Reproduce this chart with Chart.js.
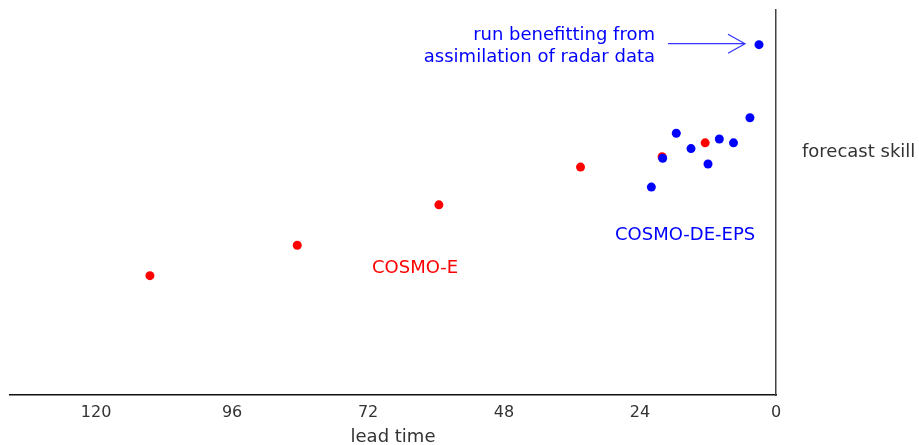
<!DOCTYPE html>
<html>
<head>
<meta charset="utf-8">
<title>Forecast skill vs lead time</title>
<script src="https://cdn.jsdelivr.net/npm/chart.js@4.4.1/dist/chart.umd.min.js"></script>
<style>
  html, body { margin: 0; padding: 0; background: #fff; }
  #wrap { width: 919px; height: 445px; position: relative; }
</style>
</head>
<body>
<div id="wrap"><canvas id="skillChart"></canvas></div>
<script>
// ── Data ─────────────────────────────────────────────────────────────────────
// lead time in hours, skill on an arbitrary 0..100 scale (no y ticks shown)
const epsLeadTime = [3, 4.6, 7.5, 10, 12, 15, 17.6, 20, 22];
const epsSkill    = [91, 72, 65.5, 66.5, 60, 64, 68, 61.5, 54];

const eLeadTime = [12.5, 20.1, 34.5, 59.5, 84.5, 110.5];
const eSkill    = [65.5, 61.9, 59.2, 49.4, 38.9, 31];

const leadTicks = [120, 96, 72, 48, 24, 0];

// ── Styles ───────────────────────────────────────────────────────────────────
const FONT = "'DejaVu Sans', Verdana, sans-serif";
const BLUE = '#0000ff';
const RED  = '#ff0000';

const toPoints = (xs, ys) => xs.map((x, i) => ({ x, y: ys[i] }));

// ── Annotation plugin (labels + arrow) ──────────────────────────────────────
const annotations = {
  id: 'annotations',
  afterDraw(chart) {
    const { ctx } = chart;
    ctx.save();
    ctx.textBaseline = 'middle';
    ctx.font = `18px ${FONT}`;

    // y axis caption
    ctx.fillStyle = '#333';
    ctx.textAlign = 'left';
    ctx.fillText('forecast skill', 802, 152);

    // series labels
    ctx.fillStyle = RED;
    ctx.fillText('COSMO-E', 372, 268);
    ctx.fillStyle = BLUE;
    ctx.fillText('COSMO-DE-EPS', 615, 235);

    // radar-assimilation note
    ctx.textAlign = 'right';
    ctx.fillText('run benefitting from', 655, 35);
    ctx.fillText('assimilation of radar data', 655, 57);

    // arrow pointing at the first EPS run
    const pt = chart.getDatasetMeta(0).data[0];
    const tipX = pt.x - 14, tipY = pt.y - 1;
    ctx.strokeStyle = '#3535ff';
    ctx.lineWidth = 1.2;
    ctx.beginPath();
    ctx.moveTo(668, tipY);
    ctx.lineTo(tipX, tipY);
    ctx.moveTo(tipX - 17, tipY - 9.5);
    ctx.lineTo(tipX, tipY);
    ctx.lineTo(tipX - 17, tipY + 9.5);
    ctx.stroke();
    ctx.restore();
  }
};

// ── Chart ────────────────────────────────────────────────────────────────────
new Chart(document.getElementById('skillChart'), {
  type: 'scatter',
  data: {
    datasets: [
      { label: 'COSMO-DE-EPS', data: toPoints(epsLeadTime, epsSkill), backgroundColor: BLUE },
      { label: 'COSMO-E',      data: toPoints(eLeadTime, eSkill),     backgroundColor: RED },
    ],
  },
  options: {
    responsive: true,
    maintainAspectRatio: false,
    animation: false,
    layout: { padding: { left: 10, top: 10, right: 0, bottom: 0 } },
    elements: { point: { radius: 4.5, borderWidth: 0, hoverRadius: 4.5 } },
    plugins: { legend: { display: false }, tooltip: { enabled: false } },
    scales: {
      x: {
        type: 'linear',
        reverse: true,
        min: 0,
        max: 135.2,
        afterBuildTicks: s => { s.ticks = leadTicks.map(v => ({ value: v })); },
        afterFit: s => { s.height = 50; },
        grid: { display: false, drawTicks: false },
        border: { display: true, color: '#111', width: 1.5 },
        ticks: { color: '#333', padding: 8, font: { family: FONT, size: 16 }, maxRotation: 0 },
        title: {
          display: true,
          text: 'lead time',
          color: '#333',
          padding: { top: 0, bottom: 0 },
          font: { family: FONT, size: 18, lineHeight: 0.9 },
        },
      },
      y: {
        position: 'right',
        min: 0,
        max: 100,
        afterFit: s => { s.width = 143; },
        grid: { display: false, drawTicks: false },
        border: { display: true, color: '#444', width: 1.5 },
        ticks: { display: false },
      },
    },
  },
  plugins: [annotations],
});
</script>
</body>
</html>
